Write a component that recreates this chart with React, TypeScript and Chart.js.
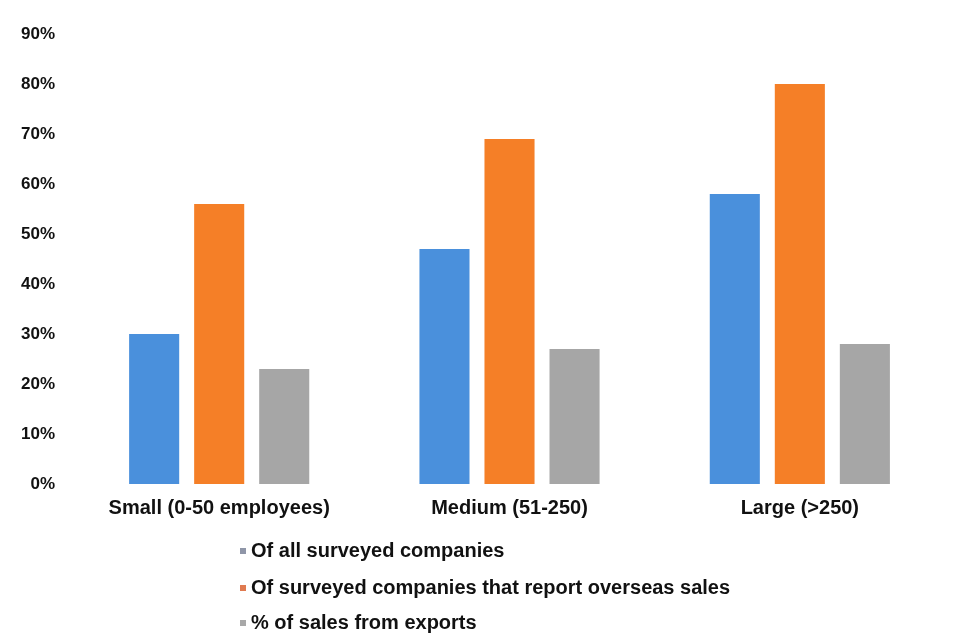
import React, { useEffect, useRef } from "react";
import { Chart, registerables } from "chart.js";

Chart.register(...registerables);

const categories = ["Small (0-50 employees)", "Medium (51-250)", "Large (>250)"];
const seriesNames = [
  "Of all surveyed companies",
  "Of surveyed companies that report overseas sales",
  "% of sales from exports",
];
const allSurveyed = [30, 47, 58];
const overseasSales = [56, 69, 80];
const salesFromExports = [23, 27, 28];
const colors = ["#4a90dc", "#f57f27", "#a6a6a6"];
const legendMarkerColors = ["#8f96a8", "#e07a50", "#a8a8a8"];
const yMax = 90;
const yStep = 10;

const FONT = '"Liberation Sans", Arial, sans-serif';

const legendPlugin = {
  id: "customLegend",
  afterDraw(chart: any) {
    const ctx = chart.ctx;
    ctx.save();
    ctx.font = `bold 20px ${FONT}`;
    ctx.textBaseline = "middle";
    ctx.textAlign = "left";
    const rows = [551, 588, 623];
    seriesNames.forEach((name, i) => {
      ctx.fillStyle = legendMarkerColors[i];
      ctx.fillRect(240, rows[i] - 3, 6, 6);
      ctx.fillStyle = "#111111";
      ctx.fillText(name, 251, rows[i]);
    });
    ctx.restore();
  },
};

export default function App() {
  const ref = useRef<HTMLCanvasElement>(null);
  useEffect(() => {
    document.body.style.margin = "0";
    const chart = new Chart(ref.current!, {
      type: "bar",
      data: {
        labels: categories,
        datasets: [
          { label: seriesNames[0], data: allSurveyed, backgroundColor: colors[0] },
          { label: seriesNames[1], data: overseasSales, backgroundColor: colors[1] },
          { label: seriesNames[2], data: salesFromExports, backgroundColor: colors[2] },
        ],
      },
      options: {
        responsive: false,
        animation: false,
        categoryPercentage: 0.672,
        barPercentage: 0.77,
        layout: { padding: { left: 2, right: 10, top: 34, bottom: 110 } },
        plugins: { legend: { display: false }, tooltip: { enabled: false } },
        scales: {
          x: {
            grid: { display: false, drawTicks: false },
            border: { display: false },
            ticks: { color: "#111111", font: { family: FONT, size: 20, weight: "bold" }, padding: 12 },
          },
          y: {
            min: 0,
            max: yMax,
            grid: { display: false, drawTicks: false },
            border: { display: false },
            ticks: {
              stepSize: yStep,
              color: "#111111",
              padding: 19,
              font: { family: FONT, size: 17, weight: "bold" },
              callback: (v: any) => `${v}%`,
            },
          },
        },
      },
      plugins: [legendPlugin],
    });
    return () => chart.destroy();
  }, []);
  return <canvas ref={ref} width={955} height={642} style={{ display: "block" }} />;
}
